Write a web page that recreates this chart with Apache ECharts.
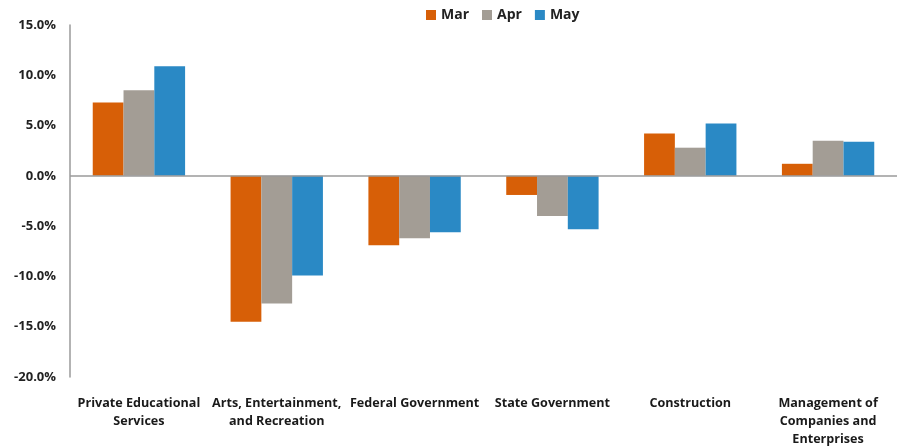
<!DOCTYPE html>
<html><head><meta charset="utf-8">
<script src="https://cdn.jsdelivr.net/npm/echarts@6/dist/echarts.min.js"></script>
<style>html,body{margin:0;padding:0;background:#fff}#c{width:904px;height:448px}</style>
</head><body><div id="c"></div>
<script>
var categories = ["Private Educational\nServices", "Arts, Entertainment,\nand Recreation", "Federal Government", "State Government", "Construction", "Management of\nCompanies and\nEnterprises"];
var seriesNames = ["Mar", "Apr", "May"];
var marValues = [7.3, -14.5, -6.9, -1.9, 4.2, 1.2];
var aprValues = [8.5, -12.7, -6.2, -4.0, 2.8, 3.5];
var mayValues = [10.9, -9.9, -5.6, -5.3, 5.2, 3.4];
var colors = ["#D75F07", "#A39D95", "#2A89C5"];

var chart = echarts.init(document.getElementById('c'), null, {renderer: 'canvas'});
var font = '"Open Sans", "Noto Sans", sans-serif';
function mk(name, data, color, withLine) {
  var s = {name: name, type: 'bar', data: data, barGap: '0%', barCategoryGap: '33%',
    itemStyle: {color: color}, animation: false};
  if (withLine) {
    s.markLine = {silent: true, symbol: 'none', label: {show: false},
      lineStyle: {color: '#9a9a9a', width: 1.5, type: 'solid'}, data: [{yAxis: 0}]};
  }
  return s;
}
chart.setOption({
  animation: false,
  textStyle: {fontFamily: font},
  legend: {top: 3, left: 421, itemWidth: 10, itemHeight: 10, itemGap: 13,
    icon: 'rect', textStyle: {fontFamily: font, fontWeight: 'bold', fontSize: 14, color: '#222'},
    data: seriesNames},
  grid: {left: 70, right: 7, top: 25, bottom: 66, containLabel: false},
  xAxis: {type: 'category', data: categories, position: 'bottom',
    axisLine: {show: false, onZero: false}, axisTick: {show: false},
    axisLabel: {interval: 0, fontFamily: font, fontWeight: 'bold', fontSize: 12.6, color: '#1a1a1a', margin: 17, lineHeight: 18}},
  yAxis: {type: 'value', min: -20, max: 15, interval: 5,
    axisLine: {show: true, lineStyle: {color: '#9a9a9a', width: 1.5}},
    axisTick: {show: false}, splitLine: {show: false},
    axisLabel: {formatter: function(v){return v.toFixed(1) + '%';}, fontFamily: font, fontWeight: 'bold', fontSize: 13, color: '#222', margin: 14}},
  series: [mk(seriesNames[0], marValues, colors[0], true), mk(seriesNames[1], aprValues, colors[1]), mk(seriesNames[2], mayValues, colors[2])]
});
</script></body></html>
